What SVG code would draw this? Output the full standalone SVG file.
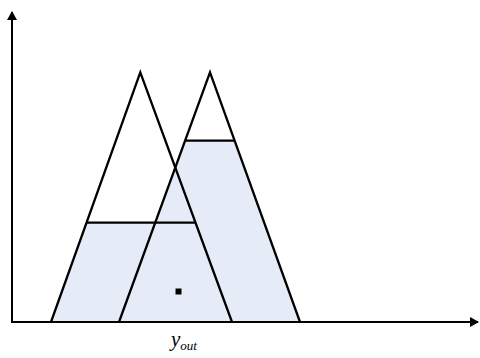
<svg xmlns="http://www.w3.org/2000/svg" width="480" height="358" viewBox="0 0 480 358">
<style>
.fill{fill:#e6ecf7;stroke:none}
.ln{fill:none;stroke:#000;stroke-width:2.3;stroke-linejoin:miter}
.ax{fill:none;stroke:#000;stroke-width:2}
.lbl{font-family:"Liberation Serif","Times New Roman",serif;font-style:italic;fill:#000}
</style>
<defs>
<marker id="arr" markerWidth="10" markerHeight="10" refX="8" refY="5" orient="auto" markerUnits="userSpaceOnUse">
<path d="M0,0 L9,5 L0,10 Z" fill="#000"/>
</marker>
</defs>
<g id="fills">
<polygon class="fill" points="51,322 87,222.7 195.5,222.7 232,322"/>
<polygon class="fill" points="119,322 185.2,140.7 234.5,140.7 300,322"/>
</g>
<g id="connectors">
<line class="ax" x1="12" y1="322" x2="12" y2="12" marker-end="url(#arr)"/>
<line class="ax" x1="11" y1="322" x2="478" y2="322" marker-end="url(#arr)"/>
</g>
<g id="triangle1">
<polyline class="ln" points="51,322 140.3,72.3 232,322"/>
<line class="ln" x1="87" y1="222.7" x2="195.5" y2="222.7"/>
</g>
<g id="triangle2">
<polyline class="ln" points="119,322 210,72.3 300,322"/>
<line class="ln" x1="185.2" y1="140.7" x2="234.5" y2="140.7"/>
</g>
<g id="point">
<rect x="175.5" y="288.5" width="6" height="6" fill="#000"/>
</g>
<g id="label">
<text class="lbl" x="171" y="346" font-size="21">y<tspan font-size="13" dy="4">out</tspan></text>
</g>
</svg>
